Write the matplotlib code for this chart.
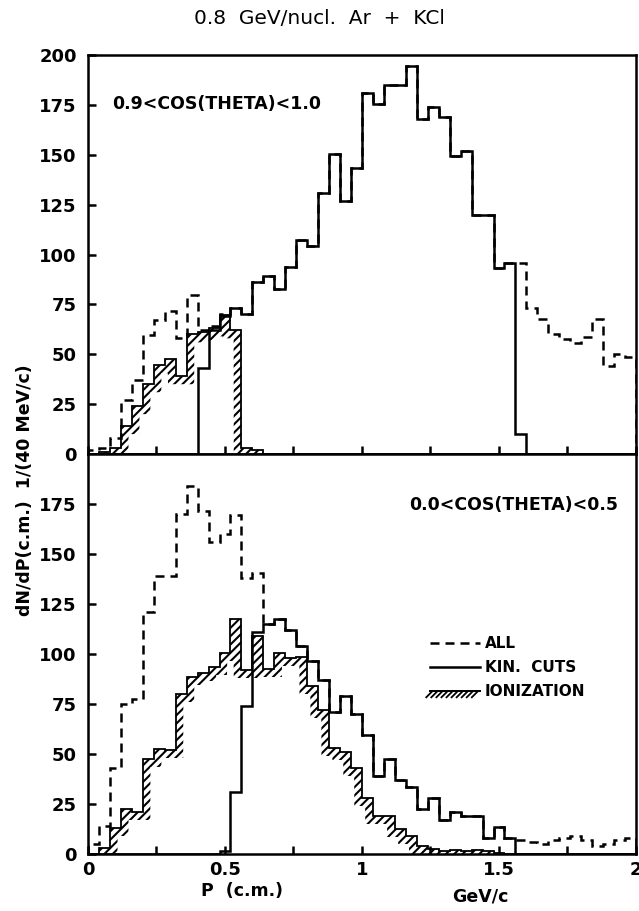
# 0.8 GeV/nucl. Ar + KCl  -  momentum spectra, two angular cuts

import numpy as np
import matplotlib.pyplot as plt
from matplotlib import patheffects as pe
from matplotlib.lines import Line2D

plt.rcParams['font.family'] = ['DejaVu Sans']
plt.rcParams['font.weight'] = 'bold'
plt.rcParams['hatch.linewidth'] = 1.5

edges = np.linspace(0, 2, 51)   # 40 MeV/c bins

# 0.9 < cos(theta) < 1.0
top_all = [2, 3, 8, 27, 37, 59.5, 67, 71.5, 58, 79.5,
           62, 64, 70, 73, 70, 86, 89, 82.5, 94, 107.5,
           104.5, 131, 150.5, 127, 143.5, 181, 175.5, 185, 185, 194.5,
           168, 174, 169, 149.5, 152, 120, 120, 93, 96, 96,
           73, 67.5, 60, 57.5, 55.5, 58.5, 67.5, 44, 50, 48.5]
top_kin = [0, 0, 0, 0, 0, 0, 0, 0, 0, 0,
           43, 62, 69, 73, 70, 86, 89, 82.5, 94, 107.5,
           104.5, 131, 150.5, 127, 143.5, 181, 175.5, 185, 185, 194.5,
           168, 174, 169, 149.5, 152, 120, 120, 93, 96, 10,
           0, 0, 0, 0, 0, 0, 0, 0, 0, 0]
top_ion = [0, 1, 3, 14, 24, 35, 44.5, 47.5, 39, 60,
           61, 63, 69.5, 62, 3, 2, 0, 0, 0, 0,
           0, 0, 0, 0, 0, 0, 0, 0, 0, 0,
           0, 0, 0, 0, 0, 0, 0, 0, 0, 0,
           0, 0, 0, 0, 0, 0, 0, 0, 0, 0]

# 0.0 < cos(theta) < 0.5
bot_all = [5, 14, 43, 75, 77.5, 121, 139, 139, 170, 184,
           171.5, 156, 160, 169.5, 138, 140.5, 115, 117.5, 112, 104,
           96.5, 87, 71, 79, 70, 59.5, 39, 47.5, 37, 33.7,
           22.5, 28, 17, 21, 19, 19, 8, 13.7, 8, 7,
           6, 5, 7, 8, 9, 7, 4, 5, 7, 8]
bot_kin = [0, 0, 0, 0, 0, 0, 0, 0, 0, 0,
           0, 0, 1.5, 31, 74, 111, 115, 117.5, 112, 104,
           96.5, 87, 71, 79, 70, 59.5, 39, 47.5, 37, 33.7,
           22.5, 28, 17, 21, 19, 19, 8, 13.7, 8, 0,
           0, 0, 0, 0, 0, 0, 0, 0, 0, 0]
bot_ion = [0, 3, 13, 22.5, 21, 47.5, 52.5, 52, 80, 88.5,
           90.5, 93.5, 100.5, 117.5, 92, 109, 92.5, 100.5, 98, 98.5,
           84, 72, 53, 51, 43, 28, 19, 19, 12.5, 9,
           4, 2.5, 1.5, 2, 1.5, 2, 1.5, 0.5, 0, 0,
           0, 0, 0, 0, 0, 0, 0, 0, 0, 0]

lw = 1.8
xf = np.linspace(0, 2, 4001)


def hatch_band(vals, dx=0.028, dy=4.0):
    # thin strip just inside the histogram outline, to be hatched
    idx = np.clip(np.searchsorted(edges, xf, side='right') - 1, 0, len(vals) - 1)
    h = np.asarray(vals, float)[idx]
    w = int(round(dx / (xf[1] - xf[0])))
    padded = np.pad(h, w, mode='edge')
    low = np.lib.stride_tricks.sliding_window_view(padded, 2 * w + 1).min(axis=1)
    return h, np.clip(low - dy, 0, None)


fig = plt.figure(figsize=(6.39, 9.11), dpi=100)
ax1 = fig.add_axes([0.1377, 0.5016, 0.8576, 0.438])
ax2 = fig.add_axes([0.1377, 0.0626, 0.8576, 0.439], sharex=ax1)


def draw(ax, a, k, i):
    ax.stairs(a, edges, baseline=0, color='k', lw=lw, ls=(0, (3.6, 2.4)), zorder=2)
    h, low = hatch_band(i)
    ax.fill_between(xf, low, h, facecolor='none', edgecolor='k', hatch='////',
                    linewidth=0, zorder=3)
    ax.stairs(i, edges, baseline=0, color='k', lw=1.3, zorder=3)
    ax.stairs(k, edges, baseline=0, color='k', lw=lw, zorder=4)


draw(ax1, top_all, top_kin, top_ion)
draw(ax2, bot_all, bot_kin, bot_ion)

for ax in (ax1, ax2):
    ax.set_xlim(0, 2)
    ax.set_ylim(0, 200)
    ax.set_xticks(np.arange(0, 2.01, 0.5))
    ax.set_xticks(np.arange(0, 2.01, 0.25), minor=True)
    ax.tick_params(which='both', direction='in', length=6, width=lw,
                   top=False, right=False, labelsize=13, pad=8)
    for s in ax.spines.values():
        s.set_linewidth(lw)

ax1.set_yticks(np.arange(0, 201, 25))
ax2.set_yticks(np.arange(0, 176, 25))
ax1.tick_params(labelbottom=False)
ax2.set_xticklabels(['0', '0.5', '1', '1.5', '2'])
ax2.tick_params(axis='x', pad=5)

ax1.text(0.088, 175.5, '0.9<COS(THETA)<1.0', fontsize=12.5, va='center')
ax2.text(1.934, 174.5, '0.0<COS(THETA)<0.5', fontsize=12.5, va='center', ha='right')

# legend keys
k_all = Line2D([], [], color='k', lw=lw, ls=(0, (3.6, 2.4)))
k_kin = Line2D([], [], color='k', lw=lw)
k_ion = Line2D([], [], color='k', lw=1.3,
               path_effects=[pe.withTickedStroke(angle=-135, spacing=3.5, length=1.8,
                                                 linewidth=1.3), pe.Normal()])
ax2.legend([k_all, k_kin, k_ion], ['ALL', 'KIN.  CUTS', 'IONIZATION'],
           loc='upper left', bbox_to_anchor=(0.613, 0.56), frameon=False,
           fontsize=11, handlelength=3.3, handletextpad=0.3,
           labelspacing=0.6, borderaxespad=0)

fig.text(0.5, 0.980, '0.8  GeV/nucl.  Ar  +  KCl', ha='center', va='center',
         fontsize=14.5, fontweight='normal')
fig.text(0.039, 0.462, 'dN/dP(c.m.)  1/(40 MeV/c)', rotation=90,
         ha='center', va='center', fontsize=12.5)
fig.text(0.378, 0.022, 'P  (c.m.)', ha='center', va='center', fontsize=12.5)
fig.text(0.752, 0.016, 'GeV/c', ha='center', va='center', fontsize=12.5)

fig.savefig('out.png', dpi=100)
